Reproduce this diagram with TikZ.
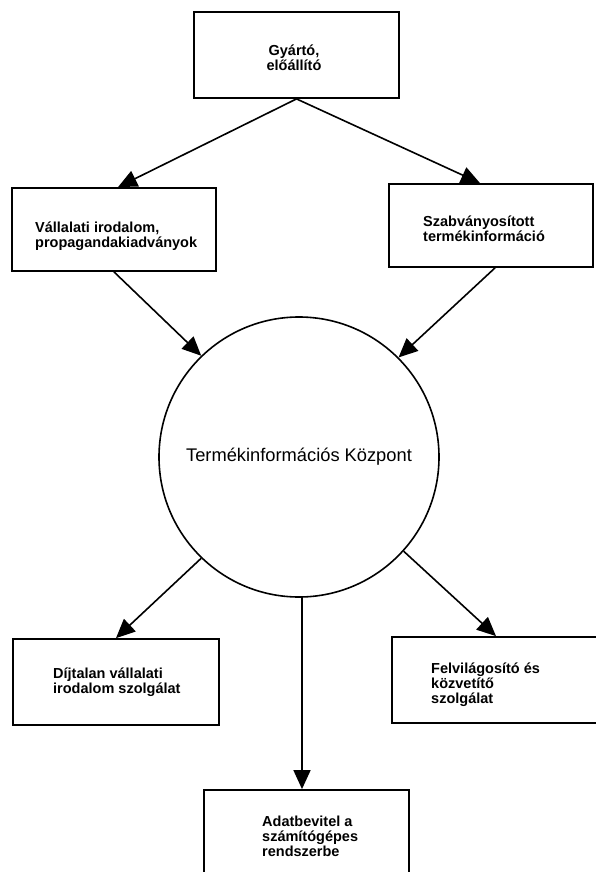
\documentclass[tikz,border=0pt]{standalone}
\usepackage{fontspec}
\setmainfont{Liberation Sans}
\usetikzlibrary{arrows.meta}
\begin{document}
\begin{tikzpicture}[x=1pt,y=-1pt,
  box/.style={draw, line width=1.8pt, rectangle, inner sep=0pt},
  boxtext/.style={inner sep=0pt, align=left, anchor=west,
    font=\bfseries\fontsize{14.5}{15}\selectfont},
  arr/.style={line width=1.6pt, -{Triangle[length=19pt,width=17pt]}}]
\useasboundingbox (0,0) rectangle (596,872);
\fill[white] (0,0) rectangle (596,872);
% boxes
\node[box, minimum width=205pt, minimum height=86pt] (gy) at (296.5,55) {};
\node[boxtext, align=center, anchor=center] (gytext) at (294,58) {Gyártó,\\előállító};
\node[box, minimum width=204pt, minimum height=83pt] (vall) at (114,229.5) {};
\node[boxtext] (valltext) at (35,236) {Vállalati irodalom,\\propagandakiadványok};
\node[box, minimum width=204pt, minimum height=83pt] (szab) at (491,225.5) {};
\node[boxtext] (szabtext) at (423,229) {Szabványosított\\termékinformáció};
\node[draw, line width=1.6pt, circle, minimum size=280pt, inner sep=0pt,
  font=\fontsize{18.3}{20}\selectfont] (ctr) at (299,457) {Termékinformációs Központ};
\node[box, minimum width=206pt, minimum height=86pt] (dij) at (116,682) {};
\node[boxtext] (dijtext) at (53,682) {Díjtalan vállalati\\irodalom szolgálat};
\node[box, minimum width=208pt, minimum height=86pt] (felv) at (496,680) {};
\node[boxtext] (felvtext) at (431,685) {Felvilágosító és\\közvetítő\\szolgálat};
\node[box, minimum width=205pt, minimum height=88pt] (adat) at (306.5,834) {};
\node[boxtext] (adattext) at (262,836) {Adatbevitel a\\számítógépes\\rendszerbe};
% connectors
\draw[arr] (gy.south) -- ([xshift=4pt]vall.north);
\draw[arr] (gy.south) -- ([xshift=-11pt]szab.north);
\draw[arr] (vall.south) -- (ctr.134);
\draw[arr] ([xshift=4pt]szab.south) -- (ctr.45);
\draw[arr] (ctr.-134) -- (dij.north);
\draw[arr] (ctr.-42) -- (felv.north);
\draw[arr] ([xshift=3pt]ctr.south) -- ([xshift=3pt]ctr.south |- adat.north);
\end{tikzpicture}
\end{document}
